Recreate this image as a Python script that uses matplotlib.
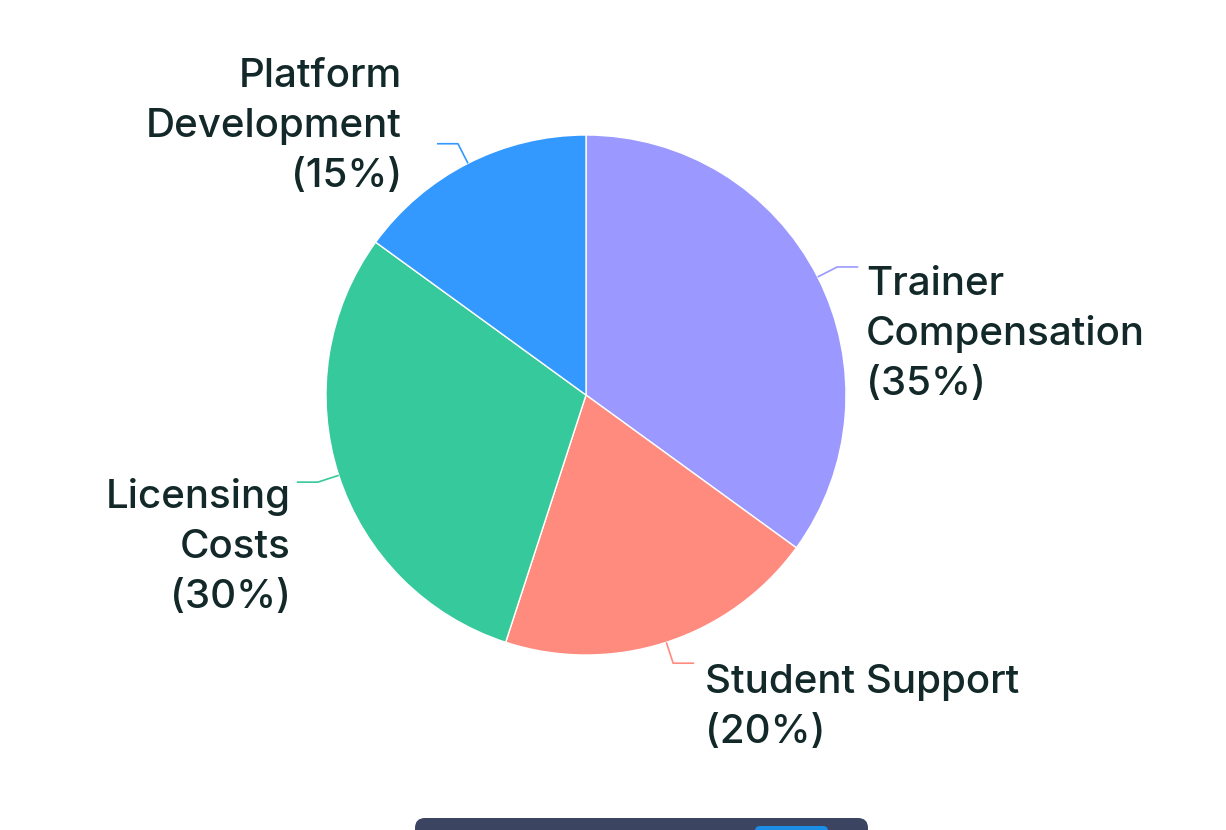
import matplotlib
matplotlib.use("Agg")
import matplotlib.pyplot as plt
import numpy as np
from matplotlib.patches import FancyBboxPatch

categories = ["Trainer Compensation", "Student Support", "Licensing Costs", "Platform Development"]
values = [35, 20, 30, 15]
colors = ["#9b99ff", "#ff8b7f", "#36c99b", "#3399ff"]
label_lines = [["Trainer", "Compensation", "(35%)"],
               ["Student Support", "(20%)"],
               ["Licensing", "Costs", "(30%)"],
               ["Platform", "Development", "(15%)"]]

W, H = 1226, 830
fig = plt.figure(figsize=(W / 100, H / 100), dpi=100)
ax = fig.add_axes([0, 0, 1, 1])
ax.set_xlim(0, W)
ax.set_ylim(0, H)
ax.set_aspect("equal")
ax.axis("off")

cx, cy, R = 586, H - 395, 260
wedges, _ = ax.pie(values, colors=colors, startangle=90, counterclock=False,
                   center=(cx, cy), radius=R, frame=True,
                   wedgeprops=dict(edgecolor="white", linewidth=1))
ax.set_xlim(0, W)
ax.set_ylim(0, H)
ax.axis("off")

text_color = "#132828"
font = ["Inter", "DejaVu Sans"]
# layout: (text x, ha, first baseline in px from top)
layout = [(866, "left", 295), (705, "left", 693), (291, "right", 508), (402, "right", 87)]
pitch = 50

cum = 0
for i, v in enumerate(values):
    mid = (cum + v / 2) / sum(values) * 2 * np.pi
    cum += v
    sx, sy = np.sin(mid), np.cos(mid)
    p0 = (cx + R * sx, cy + R * sy)
    p1 = (cx + 282 * sx, cy + 282 * sy)
    d = 1 if sx > 0 else -1
    p2 = (p1[0] + 21 * d, p1[1])
    ax.plot([p0[0], p1[0], p2[0]], [p0[1], p1[1], p2[1]], color=colors[i], lw=1.2,
            solid_capstyle="butt")
    tx, ha, by = layout[i]
    for j, line in enumerate(label_lines[i]):
        ax.text(tx, H - (by + j * pitch), line, ha=ha, va="baseline",
                fontsize=29.0, color=text_color, family=font, fontweight="medium")

# partial UI bar at bottom
bar = FancyBboxPatch((415, -40), 453, 52, boxstyle="round,pad=0,rounding_size=10",
                     facecolor="#3b4461", edgecolor="none", clip_on=True)
ax.add_patch(bar)
btn = FancyBboxPatch((755, -30), 73, 34, boxstyle="round,pad=0,rounding_size=5",
                     facecolor="#1b8fe8", edgecolor="none", clip_on=True)
ax.add_patch(btn)

fig.savefig("out.png", dpi=100, facecolor="white")
